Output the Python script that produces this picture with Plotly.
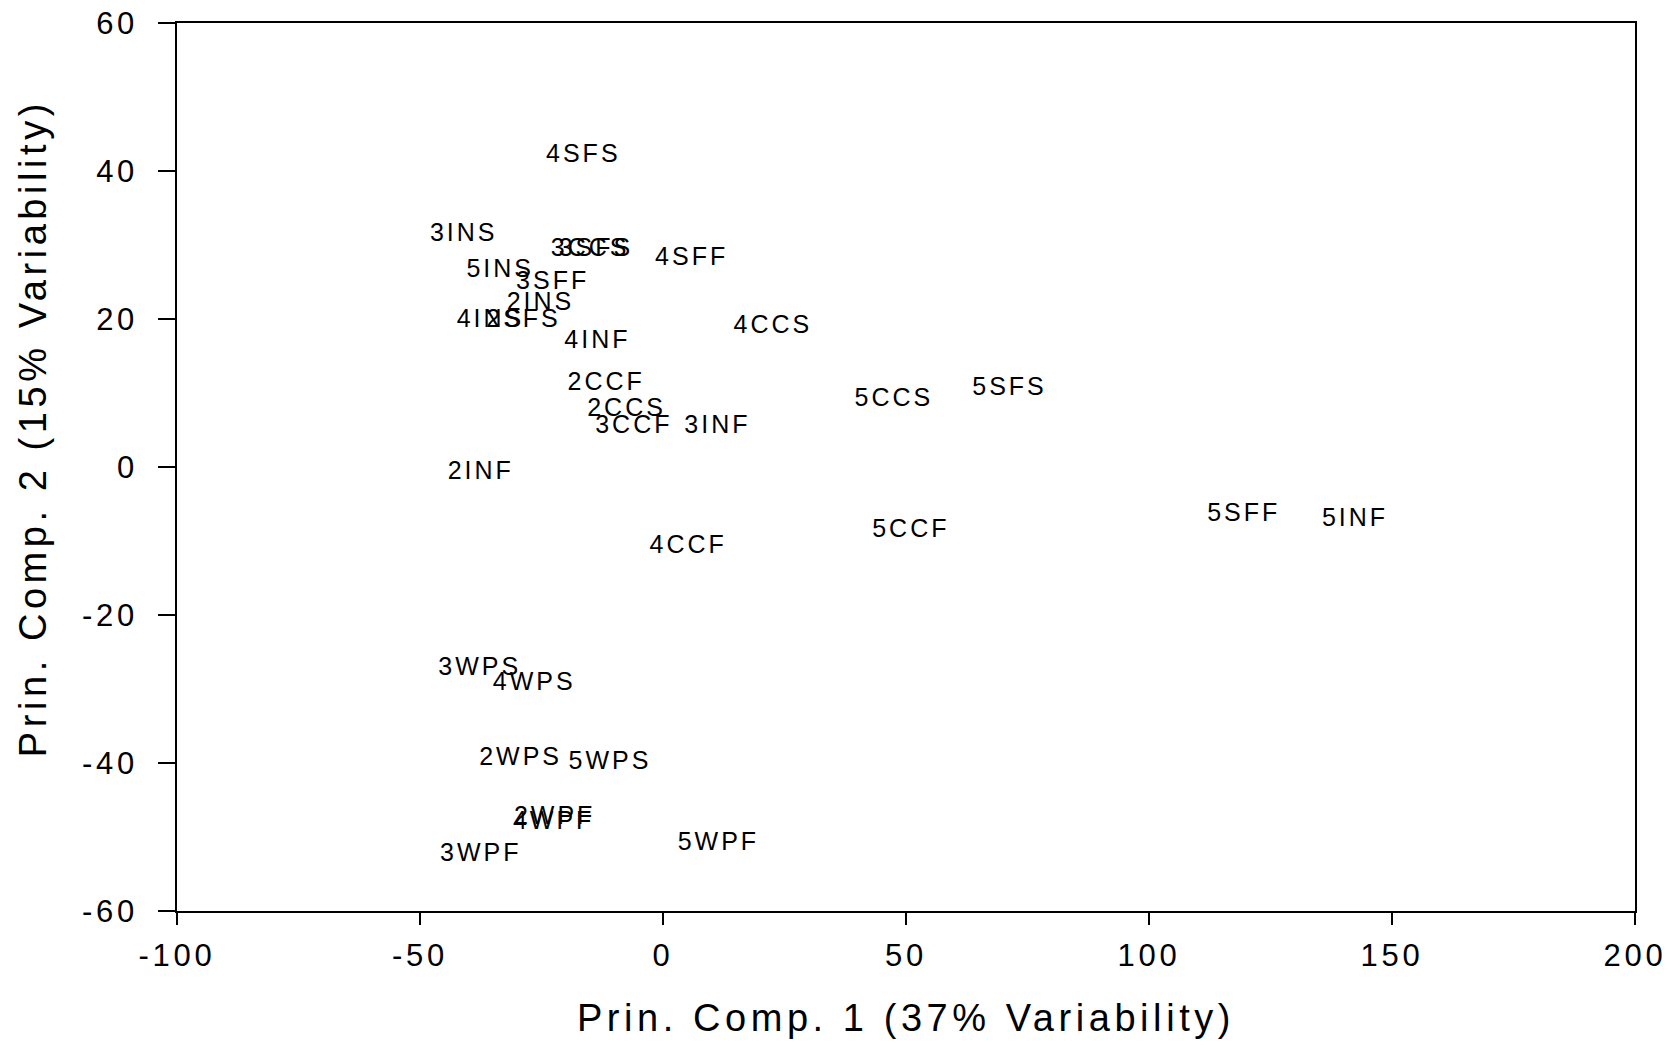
import plotly.graph_objects as go

labels = ["4SFS", "3INS", "3CCS", "3SFS", "4SFF", "5INS", "3SFF", "2INS", "4INS", "2SFS",
          "4INF", "4CCS", "2CCF", "2CCS", "3CCF", "3INF", "5CCS", "5SFS", "2INF", "5SFF",
          "5INF", "5CCF", "4CCF", "3WPS", "4WPS", "2WPS", "5WPS", "2WPF", "4WPF", "5WPF", "3WPF"]
pc1 = [-16.4, -41.0, -15.0, -13.8, 5.9, -33.5, -22.7, -25.2, -35.5, -28.7,
       -13.5, 22.6, -11.7, -7.5, -6.0, 11.2, 47.5, 71.3, -37.5, 119.5,
       142.4, 51.0, 5.2, -37.7, -26.5, -29.3, -10.9, -22.3, -22.5, 11.4, -37.5]
pc2 = [42.1, 31.4, 29.4, 29.4, 28.1, 26.5, 24.9, 22.0, 19.7, 19.7,
       16.9, 19.0, 11.2, 7.8, 5.4, 5.4, 9.1, 10.6, -0.8, -6.5,
       -7.1, -8.6, -10.8, -27.3, -29.3, -39.4, -40.0, -47.4, -48.1, -50.9, -52.4]

x_ticks = [-100, -50, 0, 50, 100, 150, 200]
y_ticks = [-60, -40, -20, 0, 20, 40, 60]

x_title = "Prin. Comp. 1 (37% Variability)"
y_title = "Prin. Comp. 2 (15% Variability)"

FONT = "Liberation Sans, Arial, sans-serif"

fig = go.Figure(go.Scatter(
    x=pc1, y=pc2, text=labels, mode="text",
    textposition="middle center",
    textfont=dict(family=FONT, size=25, color="black"),
    hoverinfo="text",
))

fig.update_layout(
    width=1662, height=1031,
    margin=dict(l=169, r=35, t=15, b=128),
    paper_bgcolor="white", plot_bgcolor="white",
    showlegend=False,
    font=dict(family=FONT, color="black"),
)
fig.update_xaxes(
    range=[-100, 200], tickvals=x_ticks, ticktext=[str(v) for v in x_ticks],
    showgrid=False, zeroline=False, automargin=False,
    showline=True, linecolor="black", linewidth=1.5, mirror=True,
    ticks="outside", ticklen=12, tickwidth=1.5, tickcolor="black",
    ticklabelstandoff=4, ticklabeloverflow="allow",
    tickfont=dict(family=FONT, size=31, color="black"),
    title=dict(text=x_title, font=dict(family=FONT, size=38, color="black"), standoff=36),
)
fig.update_yaxes(
    range=[-60, 60], tickvals=y_ticks, ticktext=[str(v) for v in y_ticks],
    showgrid=False, zeroline=False, automargin=False,
    showline=True, linecolor="black", linewidth=1.5, mirror=True,
    ticks="outside", ticklen=17, tickwidth=1.5, tickcolor="black",
    ticklabelstandoff=14, ticklabeloverflow="allow",
    tickfont=dict(family=FONT, size=31, color="black"),
)
fig.add_annotation(
    text=y_title, textangle=-90, showarrow=False,
    xref="paper", yref="paper", x=0, y=0.5434,
    xanchor="center", yanchor="middle", xshift=-144,
    font=dict(family=FONT, size=38, color="black"),
)

post = """
var gd = document.getElementById('{plot_id}');
function sp(){ gd.querySelectorAll('text').forEach(function(t){ t.style.letterSpacing='0.12em'; }); }
sp();
gd.on('plotly_afterplot', sp);
"""

fig.write_html("out.html", post_script=post)
